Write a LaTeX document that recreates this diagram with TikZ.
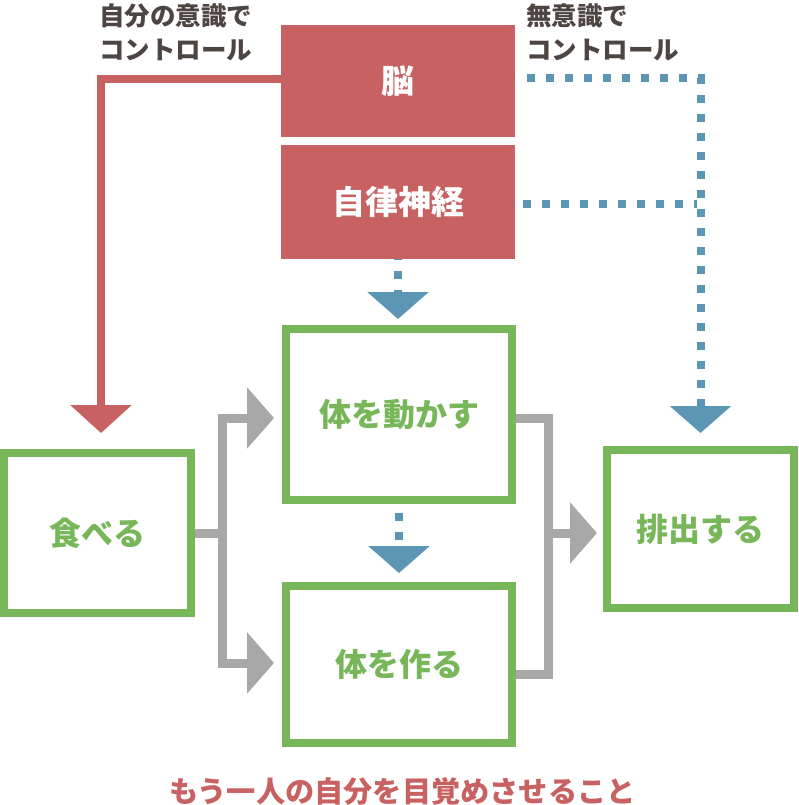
\documentclass[tikz,border=0pt]{standalone}
\usepackage{fontspec}
\newfontfamily\jp{Noto Sans CJK JP}
\usetikzlibrary{arrows.meta,calc}
\definecolor{cred}{HTML}{C86262}
\definecolor{cgreen}{HTML}{78B65A}
\definecolor{cblue}{HTML}{5B97B5}
\definecolor{cgray}{HTML}{A8A8A8}
\definecolor{ctext}{HTML}{4D4541}
\begin{document}
\begin{tikzpicture}[x=1pt,y=-1pt,
  redbox/.style={fill=cred, text=white, inner sep=0pt, minimum width=234pt,
    font=\jp\bfseries\fontsize{33}{33}\selectfont},
  greenbox/.style={draw=cgreen, line width=8pt, text=cgreen, inner sep=0pt,
    font=\jp\bfseries\fontsize{32}{32}\selectfont},
  lbl/.style={text=ctext, inner sep=0pt, align=left, anchor=north west,
    font=\jp\bfseries\fontsize{25.5}{34}\selectfont},
  redline/.style={draw=cred, line width=8pt},
  bluedot/.style={draw=cblue, line width=8pt, dash pattern=on 8pt off 11pt},
  grayline/.style={draw=cgray, line width=9pt},
  redtip/.style={-{Triangle[width=60pt,length=28pt,fill=cred]}},
  bluetip/.style={-{Triangle[width=60pt,length=27pt,fill=cblue]}},
  graytip/.style={-{Triangle[width=60pt,length=27pt,fill=cgray]}},
]
\useasboundingbox (0,0) rectangle (798,805);

% boxes
\node[redbox, minimum height=112pt] (brain) at (398,81) {脳};
\node[redbox, minimum height=114pt] (auto) at (398,202) {自律神経};
\node[greenbox, minimum width=226pt, minimum height=171pt] (move) at (399,414.5) {体を動かす};
\node[greenbox, minimum width=226pt, minimum height=157pt] (make) at (399,664.5) {体を作る};
\node[greenbox, minimum width=187pt, minimum height=160pt] (eat) at (97.5,533) {食べる};
\node[greenbox, minimum width=187pt, minimum height=158pt] (out) at (700.5,529) {排出する};

% labels
\node[lbl] (lconscious) at (99,3) {自分の意識で\\コントロール};
\node[lbl] (lunconscious) at (526,3) {無意識で\\コントロール};
\node[text=cred, inner sep=0pt, font=\jp\bfseries\fontsize{29.2}{29.2}\selectfont]
  (msg) at (402.5,791) {もう一人の自分を目覚めさせること};

% red connector
\draw[redline, redtip] ([yshift=2pt]brain.west) -| ([xshift=3.5pt,yshift=16pt]eat.north);

% blue dotted connectors
\draw[bluedot, bluetip] ([xshift=12pt,yshift=3pt]brain.east) -| ([yshift=13pt]out.north);
\draw[bluedot] ([xshift=8pt,yshift=-2pt]auto.east) -- ($(out.north |- auto.east)+(-4,2)$);
\draw[bluedot, dash phase=7.5pt, bluetip, shorten >=6pt] (auto.south) -- (auto.south |- move.north);
\draw[bluedot, dash phase=10pt, bluetip, shorten >=9pt] (move.south) -- (move.south |- make.north);

% gray connectors
\coordinate (lj) at (222.5,533);
\coordinate (rj) at (548,533);
\draw[grayline] (eat.east) -- (lj);
\draw[grayline, graytip, shorten >=8pt] (lj) |- ([yshift=-3.5pt]move.west);
\draw[grayline, graytip, shorten >=8pt] (lj) |- ([yshift=1.5pt]make.west);
\draw[grayline] ([yshift=-3.5pt]move.east) -| (rj) |- ([yshift=-9.5pt]make.east);
\draw[grayline, graytip, shorten >=6pt] (rj) -- ([yshift=-4pt]out.west);
\end{tikzpicture}
\end{document}
